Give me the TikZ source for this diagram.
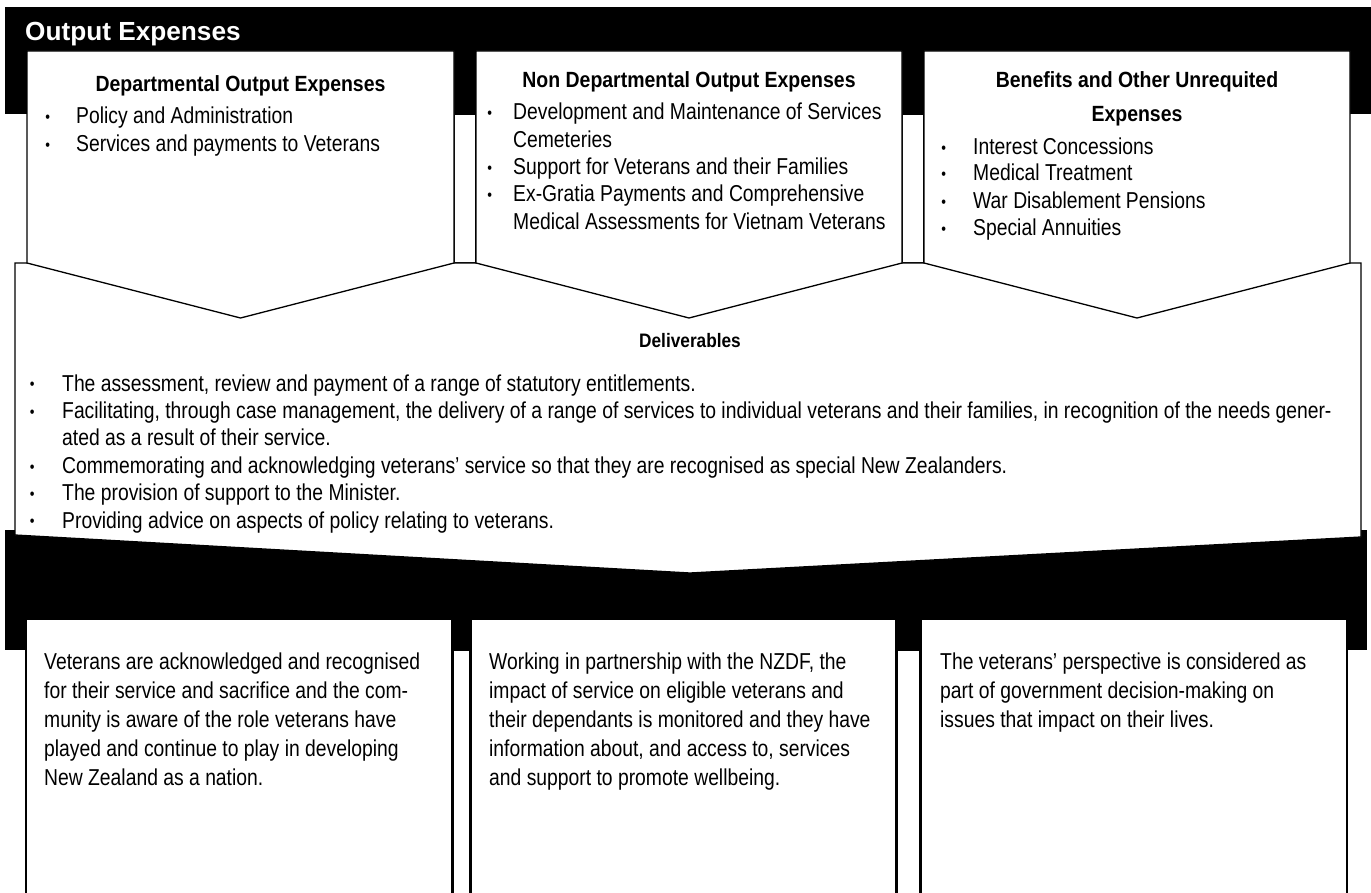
\documentclass[tikz,border=0pt]{standalone}
\usepackage{fontspec}
\setmainfont{Liberation Sans}
\newfontfamily\bodyf{Liberation Sans}[FakeStretch=0.84]
\newfontfamily\headf{Liberation Sans}[FakeStretch=0.885]
\newcommand\bul[2]{\makebox[0pt]{\raisebox{1.2pt}{\fontsize{16}{16}\selectfont\textbullet}}\hspace*{#1}#2}
\tikzset{
  box/.style={draw=black, fill=white, line width=1.3pt, line join=miter},
  band/.style={fill=black},
  txt/.style={inner sep=0pt, anchor=base west, font=\bodyf\fontsize{23}{27}\selectfont},
  head/.style={inner sep=0pt, anchor=base, font=\headf\bfseries\fontsize{22}{27}\selectfont},
}
\begin{document}
\begin{tikzpicture}[x=1pt,y=-1pt]
\useasboundingbox (0,0) rectangle (1371,893);
\clip (0,0) rectangle (1371,893);
% black bands
\fill[band] (5,7) rectangle (1371,114);
\fill[band] (5,530) rectangle (1367,650);
% gaps between the upper boxes
\draw[box] (454,114) rectangle (476,263);
\draw[box] (902,114) rectangle (924,263);
% deliverables chevron
\draw[box] (15,263) -- (1361,263) -- (1361,537) -- (690,573) -- (15,535) -- cycle;
% upper chevron boxes
\draw[box] (27,51) -- (454,51) -- (454,263) -- (240.5,318) -- (27,263) -- cycle;
\draw[box] (476,51) -- (902,51) -- (902,263) -- (689,318) -- (476,263) -- cycle;
\draw[box] (924,51) -- (1350,51) -- (1350,263) -- (1137,318) -- (924,263) -- cycle;
% gaps between the lower boxes
\draw[box, line width=1pt] (453.5,650) rectangle (469.5,900);
\draw[box, line width=1pt] (897.5,650) rectangle (919.5,900);
% lower boxes
\draw[box] (26,619) rectangle (452,900);
\draw[box] (471,619) rectangle (896,900);
\draw[box] (921,619) rectangle (1347,900);

% title
\node[inner sep=0pt, anchor=base west, text=white, font=\bfseries\fontsize{26.2}{30}\selectfont] (title) at (25,41) {Output Expenses};

% box 1
\node[head] (h1) at (240.5,92) {Departmental Output Expenses};
\node[txt] (a1) at (47.5,124) {\bul{28.5pt}{Policy and Administration}};
\node[txt] (a2) at (47.5,151.7) {\bul{28.5pt}{Services and payments to Veterans}};

% box 2
\node[head] (h2) at (689,87.3) {Non Departmental Output Expenses};
\node[txt] (b1) at (489.5,119.3) {\bul{23.5pt}{Development and Maintenance of Services}};
\node[txt] (b1c) at (513,147.7) {Cemeteries};
\node[txt] (b2) at (489.5,174.3) {\bul{23.5pt}{Support for Veterans and their Families}};
\node[txt] (b3) at (489.5,201.7) {\bul{23.5pt}{Ex-Gratia Payments and Comprehensive}};
\node[txt] (b3c) at (513,229.3) {Medical Assessments for Vietnam Veterans};

% box 3
\node[head] (h3) at (1137,87.3) {Benefits and Other Unrequited};
\node[head] (h3b) at (1137,121.7) {Expenses};
\node[txt] (c1) at (943.5,155) {\bul{29.5pt}{Interest Concessions}};
\node[txt] (c2) at (943.5,181) {\bul{29.5pt}{Medical Treatment}};
\node[txt] (c3) at (943.5,208.3) {\bul{29.5pt}{War Disablement Pensions}};
\node[txt] (c4) at (943.5,236) {\bul{29.5pt}{Special Annuities}};

% deliverables
\node[head, font=\headf\bfseries\fontsize{19.5}{24}\selectfont] (hd) at (690,348) {Deliverables};
\node[txt] (d1) at (32,391) {\bul{30pt}{The assessment, review and payment of a range of statutory entitlements.}};
\node[txt] (d2) at (32,418.4) {\bul{30pt}{Facilitating, through case management, the delivery of a range of services to individual veterans and their families, in recognition of the needs gener-}};
\node[txt] (d2c) at (62,445.8) {ated as a result of their service.};
\node[txt] (d3) at (32,473.2) {\bul{30pt}{Commemorating and acknowledging veterans’ service so that they are recognised as special New Zealanders.}};
\node[txt] (d4) at (32,500.6) {\bul{30pt}{The provision of support to the Minister.}};
\node[txt] (d5) at (32,528) {\bul{30pt}{Providing advice on aspects of policy relating to veterans.}};

% lower box A
\node[txt] (e1) at (44,669) {Veterans are acknowledged and recognised};
\node[txt] (e2) at (44,698) {for their service and sacrifice and the com-};
\node[txt] (e3) at (44,727) {munity is aware of the role veterans have};
\node[txt] (e4) at (44,756) {played and continue to play in developing};
\node[txt] (e5) at (44,785) {New Zealand as a nation.};

% lower box B
\node[txt] (f1) at (489,669) {Working in partnership with the NZDF, the};
\node[txt] (f2) at (489,698) {impact of service on eligible veterans and};
\node[txt] (f3) at (489,727) {their dependants is monitored and they have};
\node[txt] (f4) at (489,756) {information about, and access to, services};
\node[txt] (f5) at (489,785) {and support to promote wellbeing.};

% lower box C
\node[txt] (g1) at (940,669) {The veterans’ perspective is considered as};
\node[txt] (g2) at (940,698) {part of government decision-making on};
\node[txt] (g3) at (940,727) {issues that impact on their lives.};
\end{tikzpicture}
\end{document}
